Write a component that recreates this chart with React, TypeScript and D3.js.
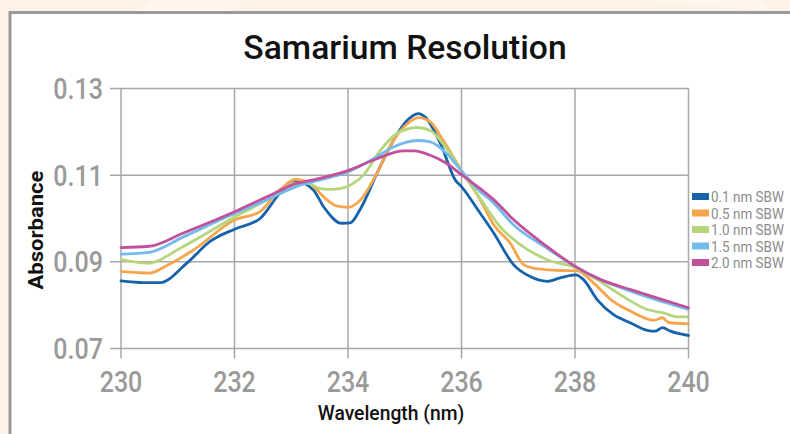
import React from "react";
import * as d3 from "d3";

const xTicks = [230, 232, 234, 236, 238, 240];
const yTicks = [0.07, 0.09, 0.11, 0.13];
const seriesNames = ["0.1 nm SBW", "0.5 nm SBW", "1.0 nm SBW", "1.5 nm SBW", "2.0 nm SBW"];
const seriesColors = ["#1763ab", "#f5a54c", "#b5d67c", "#73bbea", "#c2509a"];

const sbw01: [number, number][] = [
  [230.0, 0.0856], [230.4, 0.0852], [230.69, 0.0852], [231.16, 0.0897], [231.57, 0.0947],
  [232.01, 0.0976], [232.45, 0.1], [232.8, 0.1058], [233.07, 0.1087], [233.39, 0.1066],
  [233.57, 0.1027], [233.89, 0.0989], [234.04, 0.099], [234.21, 0.102], [234.51, 0.1104],
  [234.8, 0.118], [235.04, 0.1226], [235.24, 0.1242], [235.36, 0.1234], [235.63, 0.1173],
  [235.89, 0.1089], [236.01, 0.1072], [236.33, 0.1012], [236.57, 0.0966], [236.92, 0.0893],
  [237.21, 0.0866], [237.51, 0.0855], [237.74, 0.0863], [238.01, 0.087], [238.15, 0.0859],
  [238.39, 0.0813], [238.68, 0.0778], [238.98, 0.0759], [239.27, 0.0742], [239.42, 0.074],
  [239.54, 0.0748], [239.68, 0.074], [240.0, 0.073],
];
const sbw05: [number, number][] = [
  [230.0, 0.0878], [230.5, 0.0874], [230.83, 0.0893], [231.25, 0.0925], [232.01, 0.0997],
  [232.45, 0.1016], [232.8, 0.1066], [233.07, 0.109], [233.33, 0.1081], [233.57, 0.105],
  [233.8, 0.1029], [234.01, 0.1026], [234.22, 0.1043], [234.51, 0.1104], [234.8, 0.118],
  [235.04, 0.1218], [235.24, 0.1233], [235.45, 0.1223], [235.68, 0.118], [235.98, 0.1115],
  [236.33, 0.1043], [236.57, 0.0985], [236.86, 0.0943], [237.1, 0.0893], [237.39, 0.0883],
  [237.74, 0.088], [238.04, 0.0879], [238.33, 0.0851], [238.63, 0.0813], [238.98, 0.0786],
  [239.39, 0.0765], [239.54, 0.0771], [239.65, 0.076], [240.0, 0.0757],
];
const sbw10: [number, number][] = [
  [230.0, 0.0905], [230.47, 0.0897], [231.09, 0.0935], [232.01, 0.1004], [232.57, 0.1043],
  [232.92, 0.1073], [233.04, 0.1081], [233.28, 0.1081], [233.51, 0.1069], [233.74, 0.1067],
  [234.01, 0.1075], [234.27, 0.11], [234.57, 0.1157], [234.86, 0.1196], [235.22, 0.121],
  [235.45, 0.1203], [235.74, 0.1161], [236.01, 0.1108], [236.33, 0.1046], [236.68, 0.0981],
  [237.04, 0.0939], [237.51, 0.0905], [238.01, 0.0886], [238.39, 0.0859], [238.8, 0.0824],
  [239.27, 0.079], [239.56, 0.0782], [239.8, 0.0773], [240.0, 0.0773],
];
const sbw15: [number, number][] = [
  [230.0, 0.0918], [230.5, 0.0922], [231.09, 0.0957], [232.01, 0.1012], [232.57, 0.1043],
  [233.16, 0.1077], [233.51, 0.1089], [234.01, 0.1108], [234.45, 0.1138], [234.8, 0.1165],
  [235.22, 0.118], [235.45, 0.1177], [235.74, 0.115], [236.01, 0.1108], [236.33, 0.1062],
  [236.51, 0.1043], [236.92, 0.0985], [237.51, 0.0931], [238.01, 0.0889], [238.45, 0.0859],
  [238.98, 0.0832], [239.51, 0.0809], [240.0, 0.079],
];
const sbw20: [number, number][] = [
  [230.0, 0.0933], [230.5, 0.0936], [231.09, 0.0966], [232.01, 0.1016], [232.57, 0.105],
  [233.1, 0.1081], [233.39, 0.1089], [234.01, 0.1111], [234.51, 0.1138], [234.98, 0.1156],
  [235.16, 0.1156], [235.45, 0.1146], [235.74, 0.1127], [236.01, 0.11], [236.33, 0.1069],
  [236.57, 0.1043], [236.92, 0.0997], [237.51, 0.0935], [238.01, 0.0889], [238.45, 0.0859],
  [238.98, 0.0836], [239.51, 0.0814], [240.0, 0.0794],
];
const allSeries = [sbw01, sbw05, sbw10, sbw15, sbw20];

const W = 790;
const H = 434;
const plot = { left: 121, right: 688.5, top: 88.5, bottom: 348.5 };
const cond = "Roboto, 'Liberation Sans', Arial, sans-serif";
const sans = "Roboto, 'Liberation Sans', Arial, sans-serif";
const gridColor = "#a8a8a8";
const tickText = "#9a9a9a";

function SText(props: {
  x: number;
  y: number;
  sx: number;
  anchor?: "start" | "middle" | "end";
  size: number;
  weight?: number | string;
  fill: string;
  family: string;
  children: React.ReactNode;
}) {
  return (
    <text
      transform={`translate(${props.x},${props.y}) scale(${props.sx},1)`}
      textAnchor={props.anchor || "start"}
      fontFamily={props.family}
      fontSize={props.size}
      fontWeight={props.weight || 400}
      fill={props.fill}
    >
      {props.children}
    </text>
  );
}

export default function App() {
  const x = d3.scaleLinear().domain([230, 240]).range([plot.left, plot.right]);
  const y = d3.scaleLinear().domain([0.07, 0.13]).range([plot.bottom, plot.top]);
  const line = d3
    .line<[number, number]>()
    .x((d) => x(d[0]))
    .y((d) => y(d[1]))
    .curve(d3.curveMonotoneX);

  return (
    <svg width={W} height={H} style={{ position: "absolute", left: 0, top: 0, display: "block" }}>
      <rect x={0} y={0} width={W} height={H} fill="#fdf2e7" />
      <polygon points="150,0 245,0 10,180 10,110" fill="#fef7f0" />
      <polygon points="640,0 760,0 790,25 790,12" fill="#fef7f0" />
      <rect x={10} y={12.5} width={W + 20} height={H + 20} fill="#ffffff" stroke="#9a9a9a" strokeWidth={3} />

      <SText x={405} y={59} sx={1.02} anchor="middle" family={sans} weight={500} size={33} fill="#111">
        Samarium Resolution
      </SText>

      {xTicks.map((t) => (
        <line key={"gx" + t} x1={x(t)} x2={x(t)} y1={plot.top} y2={plot.bottom + 10} stroke={gridColor} strokeWidth={1.5} />
      ))}
      {yTicks.map((t) => (
        <line key={"gy" + t} x1={plot.left - 11} x2={plot.right} y1={y(t)} y2={y(t)} stroke={gridColor} strokeWidth={1.5} />
      ))}

      {yTicks.map((t) => (
        <SText key={"ty" + t} x={103} y={y(t) + 10.5} sx={0.85} anchor="end" family={cond} weight={500} size={29.5} fill={tickText}>
          {t.toFixed(2)}
        </SText>
      ))}
      {xTicks.map((t) => (
        <SText key={"tx" + t} x={x(t)} y={392} sx={0.85} anchor="middle" family={cond} weight={500} size={29.5} fill={tickText}>
          {t}
        </SText>
      ))}

      {allSeries.map((s, i) => (
        <path key={"s" + i} d={line(s) || ""} fill="none" stroke={seriesColors[i]} strokeWidth={2.8} strokeLinejoin="round" strokeLinecap="round" />
      ))}

      <SText x={391} y={420} sx={0.99} anchor="middle" family={sans} weight={500} size={19.5} fill="#111">
        Wavelength (nm)
      </SText>
      <text transform="translate(43,230) rotate(-90) scale(1.05,1)" textAnchor="middle" fontFamily={sans} fontWeight={700} fontSize={21} fill="#111">
        Absorbance
      </text>

      {seriesNames.map((n, i) => (
        <g key={"lg" + i} transform={`translate(692,${196.5 + i * 16.5})`}>
          <rect x={0} y={-3.5} width={17} height={7} fill={seriesColors[i]} />
          <SText x={19} y={5.5} sx={0.95} family={cond} size={14.2} fill="#8c8c8c">
            {n}
          </SText>
        </g>
      ))}
    </svg>
  );
}
